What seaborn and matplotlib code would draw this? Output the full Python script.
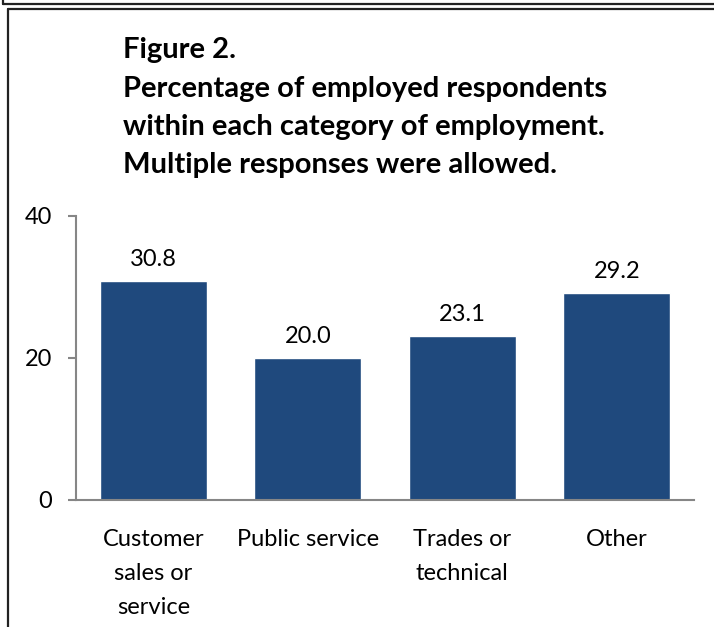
import matplotlib
matplotlib.use("Agg")
import matplotlib.pyplot as plt
import seaborn as sns
import pandas as pd
from matplotlib.lines import Line2D

categories = ["Customer\nsales or\nservice", "Public service", "Trades or\ntechnical", "Other"]
percentages = [30.8, 20.0, 23.1, 29.2]
y_ticks = [0, 20, 40]
title_lines = ["Figure 2.",
               "Percentage of employed respondents",
               "within each category of employment.",
               "Multiple responses were allowed."]

sns.set_theme(style="white")
plt.rcParams["font.family"] = ["Lato", "DejaVu Sans"]

W, H = 714, 627
fig = plt.figure(figsize=(W / 100, H / 100), dpi=100)

def fx(px):
    return px / W

def fy(py):
    return 1 - py / H

# frame lines around the figure panel
frame_col = "#222222"
fig.add_artist(Line2D([fx(3), 1], [fy(4), fy(4)], color=frame_col, lw=1.6))
fig.add_artist(Line2D([fx(3), fx(3)], [1, fy(4)], color=frame_col, lw=1.6))
fig.add_artist(Line2D([fx(8), 1], [fy(8.5), fy(8.5)], color=frame_col, lw=1.6))
fig.add_artist(Line2D([fx(8), fx(8)], [fy(8.5), 0], color=frame_col, lw=1.6))

# title block
for i, line in enumerate(title_lines):
    fig.text(fx(123), fy(58 + i * 38.5), line, fontsize=21, fontweight="bold",
             color="black", ha="left", va="baseline")

ax = fig.add_axes([fx(76), fy(500), fx(694) - fx(76), (500 - 216) / H])

df = pd.DataFrame({"category": categories, "pct": percentages})
sns.barplot(data=df, x="category", y="pct", color="#1F497D", saturation=1,
            width=0.69, ax=ax)

ax.set_ylim(0, 40)
ax.set_xlim(-0.5, len(categories) - 0.5)
ax.set_yticks(y_ticks)
ax.set_yticklabels([str(t) for t in y_ticks], fontsize=17, color="black")
ax.set_xticks(range(len(categories)))
ax.set_xticklabels(categories, fontsize=17, color="black", linespacing=1.75)
ax.set_xlabel("")
ax.set_ylabel("")

for s in ["top", "right"]:
    ax.spines[s].set_visible(False)
for s in ["left", "bottom"]:
    ax.spines[s].set_color("#868686")
    ax.spines[s].set_linewidth(1.5)

ax.tick_params(axis="y", left=True, length=6, width=1.5, color="#868686", pad=11)
ax.tick_params(axis="x", bottom=False, pad=15)
for lbl in ax.get_xticklabels():
    lbl.set_verticalalignment("top")

for i, v in enumerate(percentages):
    ax.annotate(f"{v:.1f}", (i, v), xytext=(0, 8), textcoords="offset points",
                ha="center", va="bottom", fontsize=17, color="black")

fig.savefig("out.png", dpi=100, facecolor="white")
